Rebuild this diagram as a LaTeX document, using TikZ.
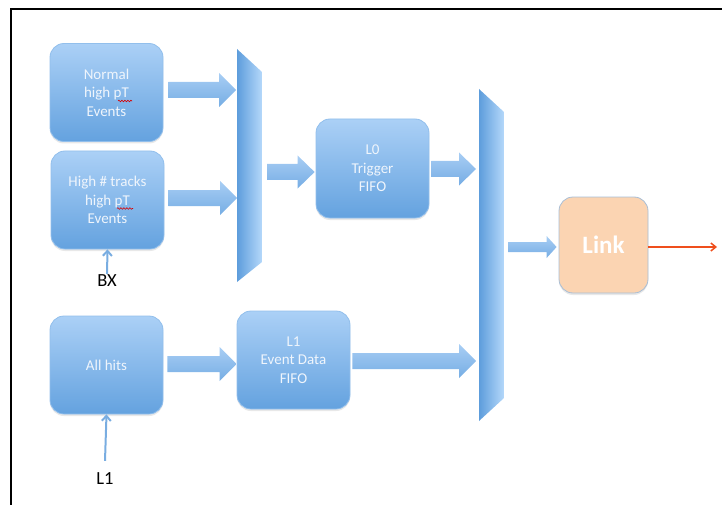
\documentclass[tikz,border=0pt]{standalone}
\usepackage{fontspec}
\setmainfont{Carlito}
\usetikzlibrary{arrows.meta,shadows,decorations.pathmorphing,calc}

\definecolor{boxtop}{HTML}{ABD0F6}
\definecolor{boxbot}{HTML}{64A2DF}
\definecolor{boxline}{HTML}{92BFEC}
\definecolor{boxtext}{HTML}{EFF5FC}
\definecolor{arrtop}{HTML}{A8CEF4}
\definecolor{arrbot}{HTML}{76ADE4}
\definecolor{muxleft}{HTML}{5D9DDC}
\definecolor{muxright}{HTML}{B5D8FA}
\definecolor{linkfill}{HTML}{FBD4B2}
\definecolor{linkline}{HTML}{A8BED6}
\definecolor{outred}{HTML}{EF4F1D}
\definecolor{sigblue}{HTML}{79ADE1}

\tikzset{
  fifobox/.style={rounded corners=14pt, draw=boxline, line width=0.8pt,
    top color=boxtop, bottom color=boxbot,
    minimum width=113pt, minimum height=98pt, inner sep=0pt,
    align=center, text=boxtext, font=\fontsize{15}{18.5}\selectfont,
    drop shadow={opacity=0.18, shadow xshift=0pt, shadow yshift=-2pt}},
  linkbox/.style={rounded corners=14pt, draw=linkline, line width=0.8pt,
    fill=linkfill, minimum width=89pt, minimum height=96pt, inner sep=0pt,
    text=white, font=\bfseries\fontsize{25}{30}\selectfont,
    drop shadow={opacity=0.18, shadow xshift=0pt, shadow yshift=-2pt}},
  muxshape/.style={left color=muxleft, right color=muxright, draw=none},
  sig/.style={draw=sigblue, line width=2pt, -{Straight Barb[length=5pt,width=9pt]}},
  siglabel/.style={inner sep=0pt, font=\fontsize{18.5}{22}\selectfont, text=black},
  outarrow/.style={draw=outred, line width=1.5pt, -{Straight Barb[length=5pt,width=8pt]}},
  spell/.style={draw=red!85!black, line width=0.6pt, decorate,
    decoration={snake, amplitude=0.8pt, segment length=3pt}},
}

% wide block arrow: #1 start point, #2 point giving the tip x,
% #3 half shaft height, #4 half head height, #5 head length
\newcommand\blkarrow[5]{%
  \shade[top color=arrtop, bottom color=arrbot]
    let \p1=(#1), \p2=(#2) in
    (\x1,\y1+#3) -- (\x2-#5,\y1+#3) -- (\x2-#5,\y1+#4) -- (\x2,\y1)
    -- (\x2-#5,\y1-#4) -- (\x2-#5,\y1-#3) -- (\x1,\y1-#3) -- cycle;}

\begin{document}
\begin{tikzpicture}[x=1pt,y=-1pt]
  \useasboundingbox (0,0) rectangle (722,505);

  % frame
  \draw[line width=2.5pt] (722,9) -- (11,9) -- (11,506);

  % source boxes
  \node[fifobox] (norm) at (106.5,92.5) {Normal\\high pT\\Events};
  \node[fifobox] (hightrk) at (107.5,200) {High \# tracks\\high pT\\Events};
  \node[fifobox] (allhits) at (106.5,365) {All hits};

  % FIFOs and link
  \node[fifobox, minimum height=99pt] (lzero) at (372.5,168.5) {L0\\Trigger\\FIFO};
  \node[fifobox] (lonefifo) at (293.5,360) {L1\\Event Data\\FIFO};
  \node[linkbox] (link) at (603.5,245) {Link};

  % spelling marks under pT
  \draw[spell] (118,101) -- (132,101);
  \draw[spell] (117,208.5) -- (133,208.5);

  % multiplexers
  \coordinate (mAa) at (237,49);
  \coordinate (mAb) at (262,72);
  \coordinate (mAc) at (262,262);
  \coordinate (mAd) at (237,282);
  \shade[muxshape] (mAa) -- (mAb) -- (mAc) -- (mAd) -- cycle;

  \coordinate (mBa) at (479,89);
  \coordinate (mBb) at (504,112);
  \coordinate (mBc) at (504,398);
  \coordinate (mBd) at (479,421);
  \shade[muxshape] (mBa) -- (mBb) -- (mBc) -- (mBd) -- cycle;

  % block arrows
  \blkarrow{$(norm.east)+(5,-2.5)$}{$(mAa)+(-1,0)$}{8pt}{17pt}{17pt}
  \blkarrow{$(hightrk.east)+(4,-2)$}{mAa}{8pt}{17pt}{17pt}
  \blkarrow{$(mAb|-lzero.west)+(5,3.5)$}{$(lzero.west)+(-1,0)$}{8pt}{16.5pt}{17pt}
  \blkarrow{$(lzero.east)+(2,0.5)$}{$(mBa)+(-3,0)$}{8pt}{16.5pt}{17pt}
  \blkarrow{$(allhits.east)+(4,-1)$}{lonefifo.west}{8pt}{17pt}{17pt}
  \blkarrow{$(lonefifo.east)+(2,1)$}{$(mBa)+(-3,0)$}{8pt}{17pt}{17pt}
  \blkarrow{$(mBb|-link.west)+(4,2)$}{$(link.west)+(-2,0)$}{5pt}{11pt}{10pt}

  % output of the link
  \coordinate (out) at (717,247);
  \draw[outarrow] (link.east|-out) -- (out);

  % trigger inputs
  \node[siglabel] (bx) at (107,281) {BX};
  \draw[sig, shorten <=1pt] (bx.north) -- (hightrk.south);
  \node[siglabel] (lonelab) at (105,479) {L1};
  \draw[sig] ($(lonelab.north)+(0,-12)$) -- (allhits.south);
\end{tikzpicture}
\end{document}
